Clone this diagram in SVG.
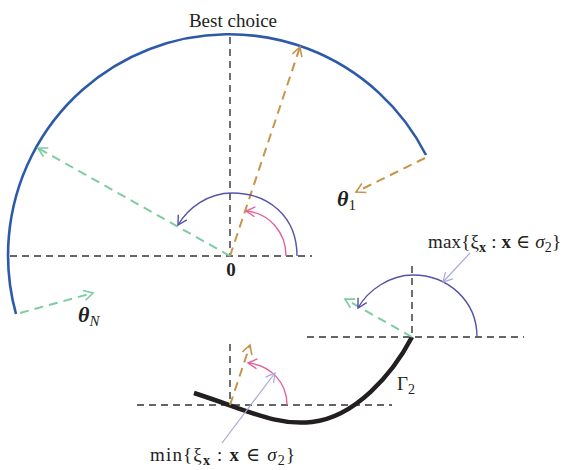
<svg xmlns="http://www.w3.org/2000/svg" width="574" height="470" viewBox="0 0 574 470">
<style>
.t{font-family:"Liberation Serif","DejaVu Serif",serif;fill:#231f20}
.ax{fill:none;stroke:#333;stroke-width:1.4;stroke-dasharray:7,5}
.gr{fill:none;stroke:#7dcca2;stroke-width:2;stroke-dasharray:9,6}
.br{fill:none;stroke:#c6954a;stroke-width:2;stroke-dasharray:9,6}
.pu{fill:none;stroke:#5553a6;stroke-width:1.4}
.pk{fill:none;stroke:#e8609c;stroke-width:1.4}
.lv{fill:none;stroke:#a9a7dc;stroke-width:1.2}
</style>
<defs>
<marker id="mg" markerUnits="userSpaceOnUse" markerWidth="20" markerHeight="20" refX="0" refY="0" viewBox="-12 -10 14 20" orient="auto"><path d="M-9,-5 L0,0 L-9,5" fill="none" stroke="#7dcca2" stroke-width="1.6"/></marker>
<marker id="mb" markerUnits="userSpaceOnUse" markerWidth="20" markerHeight="20" refX="0" refY="0" viewBox="-12 -10 14 20" orient="auto"><path d="M-9,-5 L0,0 L-9,5" fill="none" stroke="#c6954a" stroke-width="1.6"/></marker>
<marker id="mp" markerUnits="userSpaceOnUse" markerWidth="20" markerHeight="20" refX="0" refY="0" viewBox="-12 -10 14 20" orient="auto"><path d="M-9,-5 L0,0 L-9,5" fill="none" stroke="#5553a6" stroke-width="1.4"/></marker>
<marker id="mk" markerUnits="userSpaceOnUse" markerWidth="20" markerHeight="20" refX="0" refY="0" viewBox="-12 -10 14 20" orient="auto"><path d="M-9,-5 L0,0 L-9,5" fill="none" stroke="#e8609c" stroke-width="1.4"/></marker>
<marker id="ml" markerUnits="userSpaceOnUse" markerWidth="20" markerHeight="20" refX="0" refY="0" viewBox="-12 -10 14 20" orient="auto"><path d="M-9,-5 L0,0 L-9,5" fill="none" stroke="#a9a7dc" stroke-width="1.2"/></marker>
</defs>
<rect width="574" height="470" fill="#fff"/>
<g id="axes">
<path class="ax" d="M10,256 H312 M230,37 V256"/>
<path class="ax" d="M307,337 H524 M412,266 V337"/>
<path class="ax" d="M137,405 H392 M230,344 V405"/>
</g>
<g id="feasible-arc">
<path d="M16,314 A221,221 0 0 1 426,155" fill="none" stroke="#2d5aa8" stroke-width="2.6"/>
</g>
<g id="gamma2-curve">
<path d="M194,393 C250,411 275,426 312,422 C355,417 392,375 412,337" fill="none" stroke="#231f20" stroke-width="4.5"/>
</g>
<g id="connectors">
<path class="br" d="M230,256 L300,47" marker-end="url(#mb)"/>
<path class="gr" d="M230,256 L38,148" marker-end="url(#mg)"/>
<path class="pu" d="M297,256 C297,216 268,193 232,193 C208,193 188,208 178,225" marker-end="url(#mp)"/>
<path class="pk" d="M286,256 C286,232 269,213 246,211" marker-end="url(#mk)"/>
<path class="gr" d="M20,313 L93,293" marker-end="url(#mg)"/>
<path class="br" d="M425,158 L356,192" marker-end="url(#mb)"/>
<path class="gr" d="M412,337 L345,299" marker-end="url(#mg)"/>
<path class="pu" d="M477,337 C477,300 447,275 413,275 C390,275 368,290 358,308" marker-end="url(#mp)"/>
<path class="lv" d="M470,253 L443,282" marker-end="url(#ml)"/>
<path class="br" d="M230,405 L250,345" marker-end="url(#mb)"/>
<path class="pk" d="M287,405 C287,382 270,365 248,363" marker-end="url(#mk)"/>
<path class="lv" d="M222,443 L275,373" marker-end="url(#ml)"/>
</g>
<g id="labels">
<text class="t" x="233" y="27" font-size="19" text-anchor="middle">Best choice</text>
<text class="t" x="231" y="276" font-size="19" font-weight="bold" text-anchor="middle">0</text>
<text class="t" x="78" y="322" font-size="22" font-weight="bold" font-style="italic">θ<tspan font-size="15" font-weight="normal" dy="4">N</tspan></text>
<text class="t" x="337" y="206" font-size="22" font-weight="bold" font-style="italic">θ<tspan font-size="15" font-weight="normal" font-style="normal" dy="4">1</tspan></text>
<text class="t" x="397" y="390" font-size="19">Γ<tspan font-size="14" dy="4">2</tspan></text>
<text class="t" x="428" y="248" font-size="19" textLength="133" lengthAdjust="spacing">max{ξ<tspan font-size="14" font-weight="bold" dy="4">x</tspan><tspan dy="-4"> : </tspan><tspan font-weight="bold">x</tspan> ∈ <tspan font-style="italic">σ</tspan><tspan font-size="14" dy="4">2</tspan><tspan dy="-4">}</tspan></text>
<text class="t" x="150" y="461" font-size="19" textLength="145" lengthAdjust="spacing">min{ξ<tspan font-size="14" font-weight="bold" dy="4">x</tspan><tspan dy="-4"> : </tspan><tspan font-weight="bold">x</tspan> ∈ <tspan font-style="italic">σ</tspan><tspan font-size="14" dy="4">2</tspan><tspan dy="-4">}</tspan></text>
</g>
</svg>
